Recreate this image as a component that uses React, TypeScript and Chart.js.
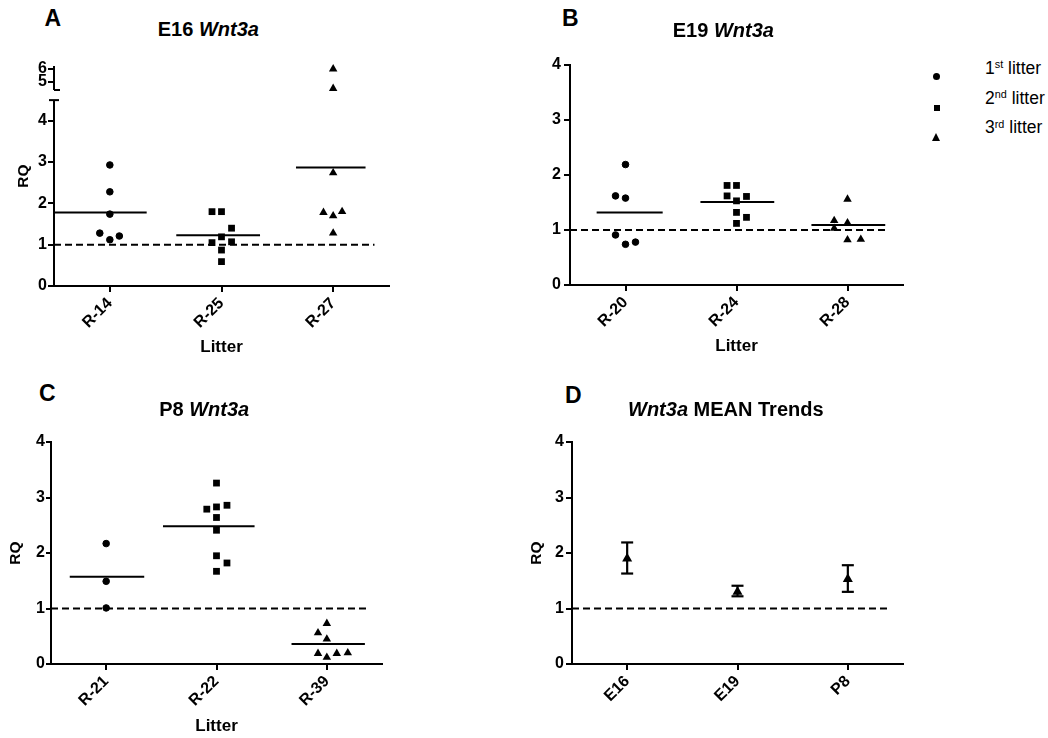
import React, { useEffect, useRef } from "react";
import { Chart, registerables } from "chart.js";

Chart.register(...registerables);

const FONT = "'Liberation Sans', Arial, Helvetica, sans-serif";

// ---------- Panel A : E16 Wnt3a ----------
const littersA = ["R-14", "R-25", "R-27"];
const a_R14 = [2.93, 2.28, 1.74, 1.28, 1.12, 1.21];
const a_R25 = [1.8, 1.8, 1.4, 1.19, 1.05, 1.07, 0.87, 0.59];
const a_R27 = [2.74, 1.78, 1.7, 1.8, 1.28];
const a_R27High = [6.0, 4.5]; // plotted on the upper (broken) segment
const meansA = [1.78, 1.23, 2.87];
const yTicksA = [0, 1, 2, 3, 4];
const yTicksAHigh = [5, 6];
const breakA = 4.5;

// ---------- Panel B : E19 Wnt3a ----------
const littersB = ["R-20", "R-24", "R-28"];
const b_R20 = [2.19, 1.62, 1.58, 0.91, 0.74, 0.78];
const b_R24 = [1.81, 1.81, 1.62, 1.61, 1.53, 1.32, 1.12, 1.23];
const b_R28 = [1.56, 1.17, 1.13, 1.03, 0.82, 0.83];
const meansB = [1.32, 1.51, 1.09];

// ---------- Panel C : P8 Wnt3a ----------
const littersC = ["R-21", "R-22", "R-39"];
const c_R21 = [2.17, 1.49, 1.01];
const c_R22 = [3.26, 2.79, 2.83, 2.86, 2.64, 2.41, 1.95, 1.82, 1.67];
const c_R39 = [0.73, 0.56, 0.45, 0.19, 0.12, 0.19, 0.2];
const meansC = [1.57, 2.48, 0.36];

// ---------- Panel D : Wnt3a MEAN Trends ----------
const stagesD = ["E16", "E19", "P8"];
const meanD = [1.9, 1.3, 1.53];
const upperD = [2.19, 1.41, 1.78];
const lowerD = [1.63, 1.22, 1.3];

const yTicks = [0, 1, 2, 3, 4];
const referenceRQ = 1;

// horizontal scatter (jitter) of the points inside each column, in column units
const jitA = [
  [0, 0, 0, -0.09, 0, 0.085],
  [-0.085, 0, 0.09, 0, -0.085, 0.09, 0, 0],
  [0, -0.087, 0, 0.08, 0],
];
const jitAHigh = [0, 0];
const jitB = [
  [0, -0.09, 0, -0.09, 0, 0.09],
  [-0.085, 0, -0.085, 0.09, 0, 0, 0, 0.09],
  [0, -0.12, 0, -0.12, 0, 0.12],
];
const jitC = [
  [0, 0, 0],
  [0, -0.088, 0, 0.095, 0, 0, 0, 0.095, 0],
  [0, -0.08, 0, -0.08, 0, 0.09, 0.19],
];
// extent of each mean line relative to its column (style)
const meanSpanA = [[-0.5, 0.33], [-0.405, 0.345], [-0.333, 0.29]];
const meanSpanB = [[-0.26, 0.335], [-0.325, 0.34], [-0.325, 0.34]];
const meanSpanC = [[-0.33, 0.345], [-0.485, 0.345], [-0.32, 0.345]];
const dashEnd = 2.37;

const TICK_FONT = { family: FONT, size: 16, weight: "bold" as const };
const AXIS_TITLE_FONT = { family: FONT, size: 17, weight: "bold" as const };
const RQ_FONT = { family: FONT, size: 15.5, weight: "bold" as const };

const MARK: Record<string, any> = {
  circle: { pointStyle: "circle", pointRadius: 3.3, pointBorderWidth: 1 },
  rect: { pointStyle: "rect", pointRadius: 4.8, pointBorderWidth: 0 },
  triangle: { pointStyle: "triangle", pointRadius: 4.9, pointBorderWidth: 0 },
};

function pts(vals: number[], jit: number[], cat: number) {
  return vals.map((v, i) => ({ x: cat + (jit[i] || 0), y: v }));
}

function marks(data: any[], mark: string, yAxisID = "y", extra: any = {}) {
  return {
    type: "scatter",
    data,
    ...MARK[mark],
    backgroundColor: "#000",
    borderColor: "#000",
    pointBackgroundColor: "#000",
    pointBorderColor: "#000",
    showLine: false,
    clip: false,
    yAxisID,
    ...extra,
  };
}

function hLine(x0: number, x1: number, y: number, dash: number[] = [], yAxisID = "y") {
  return {
    type: "scatter",
    data: [
      { x: x0, y },
      { x: x1, y },
    ],
    showLine: true,
    borderColor: "#000",
    borderWidth: 2,
    borderDash: dash,
    pointRadius: 0,
    clip: false,
    yAxisID,
  };
}

function xScale(cats: string[], height: number, title?: string) {
  return {
    type: "linear",
    position: "bottom",
    min: -0.5,
    max: 2.5,
    afterBuildTicks: (s: any) => {
      s.ticks = cats.map((_, i) => ({ value: i }));
    },
    afterFit: (s: any) => {
      s.height = height;
    },
    ticks: {
      autoSkip: false,
      minRotation: 45,
      maxRotation: 45,
      padding: 2,
      color: "#000",
      font: TICK_FONT,
      callback: (v: any) => cats[Math.round(v)] ?? "",
    },
    grid: {
      display: true,
      drawOnChartArea: false,
      drawTicks: true,
      tickLength: 6,
      tickWidth: 2,
      tickColor: "#000",
      color: "#000",
      lineWidth: 2,
    },
    border: { display: true, color: "#000", width: 2 },
    title: title
      ? { display: true, text: title, color: "#000", font: AXIS_TITLE_FONT, padding: 0 }
      : { display: false },
  };
}

function yScale(
  min: number,
  max: number,
  ticks: number[],
  width: number,
  tickPad: number,
  tickLen: number,
  title: { pad: number } | null,
  extra: any = {}
) {
  return {
    type: "linear",
    position: "left",
    min,
    max,
    afterBuildTicks: (s: any) => {
      s.ticks = ticks.map((v) => ({ value: v }));
    },
    afterFit: (s: any) => {
      s.width = width;
    },
    ticks: { color: "#000", font: TICK_FONT, padding: tickPad, autoSkip: false },
    grid: {
      display: true,
      drawOnChartArea: false,
      drawTicks: true,
      tickLength: tickLen,
      tickWidth: 2,
      tickColor: "#000",
      color: "#000",
      lineWidth: 2,
    },
    border: { display: true, color: "#000", width: 2 },
    title: title
      ? { display: true, text: "RQ", color: "#000", font: RQ_FONT, padding: { top: title.pad, bottom: 0 } }
      : { display: false },
    ...extra,
  };
}

// draws the y axis line of the broken axis (panel A) through the library's scales
const brokenAxisPlugin = {
  id: "brokenAxis",
  afterDraw(chart: any, _args: any, opts: any) {
    if (!opts || !opts.segments) return;
    const ctx = chart.ctx;
    const x = chart.chartArea.left;
    ctx.save();
    ctx.strokeStyle = "#000";
    ctx.lineWidth = 2;
    for (const seg of opts.segments) {
      const sc = chart.scales[seg.axis];
      const from = seg.from ?? sc.min;
      const to = seg.to ?? sc.max;
      const capAt = seg.capAt === "min" ? sc.min : seg.capAt;
      const y1 = sc.getPixelForValue(from);
      const y2 = sc.getPixelForValue(to);
      ctx.beginPath();
      ctx.moveTo(x, y1);
      ctx.lineTo(x, y2);
      ctx.stroke();
      const yc = sc.getPixelForValue(capAt);
      ctx.beginPath();
      ctx.moveTo(x + seg.cap[0], yc);
      ctx.lineTo(x + seg.cap[1], yc);
      ctx.stroke();
    }
    ctx.restore();
  },
};

function baseOptions(scales: any, padding: any, plugins: any = {}) {
  return {
    responsive: false,
    animation: false,
    devicePixelRatio: 1,
    events: [],
    layout: { padding },
    plugins: { legend: { display: false }, tooltip: { enabled: false }, ...plugins },
    scales,
  };
}

function configA(): any {
  const datasets: any[] = [
    marks(pts(a_R14, jitA[0], 0), "circle"),
    marks(pts(a_R25, jitA[1], 1), "rect"),
    marks(pts(a_R27, jitA[2], 2), "triangle"),
    marks(pts(a_R27High, jitAHigh, 2), "triangle", "y2"),
    ...meansA.map((m, i) => hLine(i + meanSpanA[i][0], i + meanSpanA[i][1], m)),
    hLine(-0.5, dashEnd, referenceRQ, [7, 4]),
  ];
  return {
    type: "scatter",
    data: { datasets },
    options: baseOptions(
      {
        x: xScale(littersA, 72, "Litter"),
        y: yScale(0, 4.745, yTicksA, 29, 1, 6, null, {
          stack: "a",
          stackWeight: 196,
          weight: 0,
          border: { display: false },
        }),
        y2: yScale(4.38, 6.23, yTicksAHigh, 29, 1, 6, null, {
          stack: "a",
          stackWeight: 24,
          weight: 1,
          border: { display: false },
        }),
        yt: {
          type: "linear",
          position: "left",
          display: true,
          weight: 2,
          afterFit: (s: any) => {
            s.width = 25;
          },
          ticks: { display: false },
          grid: { display: false },
          border: { display: false },
          title: { display: true, text: "RQ", color: "#000", font: RQ_FONT, padding: { top: 14, bottom: 0 } },
        },
      },
      { top: 26, right: 11, bottom: 0, left: 0 },
      {
        brokenAxis: {
          segments: [
            { axis: "y", from: 0, to: breakA, capAt: breakA, cap: [-5, 5] },
            { axis: "y2", capAt: "min", cap: [0, 6] },
          ],
        },
      }
    ),
    plugins: [brokenAxisPlugin],
  };
}

function configB(): any {
  const datasets: any[] = [
    marks(pts(b_R20, jitB[0], 0), "circle"),
    marks(pts(b_R24, jitB[1], 1), "rect"),
    marks(pts(b_R28, jitB[2], 2), "triangle"),
    ...meansB.map((m, i) => hLine(i + meanSpanB[i][0], i + meanSpanB[i][1], m)),
    hLine(-0.5, dashEnd, referenceRQ, [7, 4]),
  ];
  return {
    type: "scatter",
    data: { datasets },
    options: baseOptions(
      {
        x: xScale(littersB, 72, "Litter"),
        y: yScale(0, 4, yTicks, 70, 3, 6, null),
      },
      { top: 25, right: 10, bottom: 0, left: 0 }
    ),
  };
}

function configC(): any {
  const datasets: any[] = [
    marks(pts(c_R21, jitC[0], 0), "circle"),
    marks(pts(c_R22, jitC[1], 1), "rect"),
    marks(pts(c_R39, jitC[2], 2), "triangle"),
    ...meansC.map((m, i) => hLine(i + meanSpanC[i][0], i + meanSpanC[i][1], m)),
    hLine(-0.5, dashEnd, referenceRQ, [7, 4]),
  ];
  return {
    type: "scatter",
    data: { datasets },
    options: baseOptions(
      {
        x: xScale(littersC, 73, "Litter"),
        y: yScale(0, 4, yTicks, 51, 1, 5, { pad: 6 }),
      },
      { top: 32, right: 10, bottom: 0, left: 0 }
    ),
  };
}

function configD(): any {
  const errorBars = stagesD.map((_, i) => ({
    type: "scatter",
    data: [
      { x: i, y: lowerD[i] },
      { x: i, y: upperD[i] },
    ],
    showLine: true,
    borderColor: "#000",
    borderWidth: 2.2,
    pointStyle: "line",
    pointRadius: 6,
    pointBorderWidth: 2.2,
    pointBorderColor: "#000",
    clip: false,
  }));
  const datasets: any[] = [
    marks(meanD.map((m, i) => ({ x: i, y: m })), "triangle", "y", { pointRadius: 5.8 }),
    ...errorBars,
    hLine(-0.5, dashEnd, referenceRQ, [7, 4]),
  ];
  return {
    type: "scatter",
    data: { datasets },
    options: baseOptions(
      {
        x: xScale(stagesD, 73),
        y: yScale(0, 4, yTicks, 72, 2, 6, { pad: 27.5 }),
      },
      { top: 32, right: 10, bottom: 0, left: 0 }
    ),
  };
}

const abs = (left: number, top: number, extra: any = {}) => ({
  position: "absolute" as const,
  left,
  top,
  ...extra,
});

function Title({ cx, cy, fs, children }: any) {
  return (
    <div
      style={abs(cx - 150, cy - 0.49 * fs, {
        width: 300,
        textAlign: "center",
        fontSize: fs,
        lineHeight: `${fs}px`,
        fontWeight: "bold",
        whiteSpace: "nowrap",
      })}
    >
      {children}
    </div>
  );
}

function Letter({ x, cy, children }: any) {
  const fs = 23;
  return (
    <div style={abs(x, cy - 0.49 * fs, { fontSize: fs, lineHeight: `${fs}px`, fontWeight: "bold" })}>
      {children}
    </div>
  );
}

const supStyle = { fontSize: "0.62em", position: "relative" as const, top: "-0.5em", verticalAlign: "baseline" };

function LegendText({ cy, n, suf }: any) {
  const fs = 17.5;
  return (
    <div style={abs(985, cy - 0.49 * fs, { fontSize: fs, lineHeight: `${fs}px`, whiteSpace: "nowrap" })}>
      {n}
      <span style={supStyle}>{suf}</span> litter
    </div>
  );
}

export default function App() {
  const refA = useRef<HTMLCanvasElement>(null);
  const refB = useRef<HTMLCanvasElement>(null);
  const refC = useRef<HTMLCanvasElement>(null);
  const refD = useRef<HTMLCanvasElement>(null);

  useEffect(() => {
    const charts = [
      new Chart(refA.current as HTMLCanvasElement, configA()),
      new Chart(refB.current as HTMLCanvasElement, configB()),
      new Chart(refC.current as HTMLCanvasElement, configC()),
      new Chart(refD.current as HTMLCanvasElement, configD()),
    ];
    return () => charts.forEach((c) => c.destroy());
  }, []);

  const cv = (left: number, top: number, w: number, h: number) => abs(left, top, { width: w, height: h });

  return (
    <div
      style={abs(0, 0, {
        width: 1048,
        height: 738,
        background: "#fff",
        color: "#000",
        fontFamily: FONT,
        overflow: "hidden",
      })}
    >
      <canvas ref={refA} width={400} height={318} style={cv(0, 40, 400, 318)} />
      <canvas ref={refB} width={413} height={317} style={cv(500, 40, 413, 317)} />
      <canvas ref={refC} width={392} height={327} style={cv(0, 410, 392, 327)} />
      <canvas ref={refD} width={413} height={327} style={cv(500, 410, 413, 327)} />

      <Letter x={44.5} cy={18.3}>A</Letter>
      <Letter x={562} cy={18.3}>B</Letter>
      <Letter x={39} cy={393.3}>C</Letter>
      <Letter x={565} cy={395}>D</Letter>

      <Title cx={208.3} cy={29.2} fs={20}>
        E16 <i>Wnt3a</i>
      </Title>
      <Title cx={723.3} cy={30} fs={20}>
        E19 <i>Wnt3a</i>
      </Title>
      <Title cx={204.2} cy={408.3} fs={20}>
        P8 <i>Wnt3a</i>
      </Title>
      <Title cx={725.8} cy={408.8} fs={20}>
        <i>Wnt3a</i> MEAN Trends
      </Title>

      {/* legend */}
      <div style={abs(933.2, 73.2, { width: 7, height: 7, borderRadius: "50%", background: "#000" })} />
      <div style={abs(933.7, 105.3, { width: 6, height: 6, background: "#000" })} />
      <div
        style={abs(932.2, 133.3, {
          width: 0,
          height: 0,
          borderLeft: "4.5px solid transparent",
          borderRight: "4.5px solid transparent",
          borderBottom: "8px solid #000",
        })}
      />
      <LegendText cy={68.3} n="1" suf="st" />
      <LegendText cy={98.3} n="2" suf="nd" />
      <LegendText cy={128} n="3" suf="rd" />
    </div>
  );
}
